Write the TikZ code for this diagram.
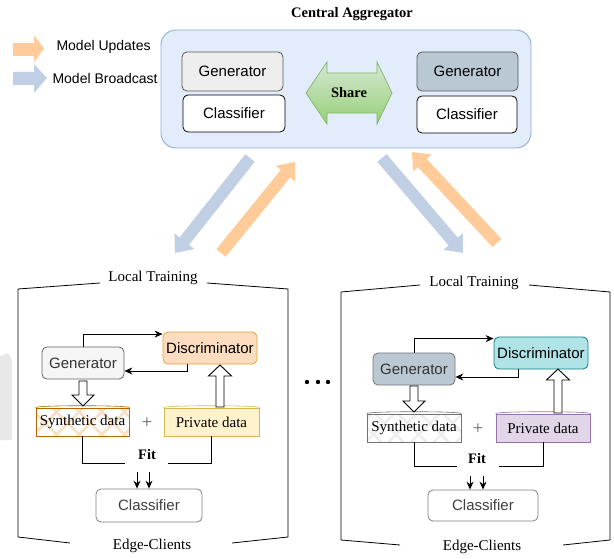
\documentclass[tikz,border=0pt]{standalone}
\usepackage{fontspec}
\setmainfont{Liberation Serif}
\newfontfamily\arialf{Liberation Sans}
\usetikzlibrary{arrows.meta,patterns.meta,calc}
\definecolor{cbox}{HTML}{E3ECFA}
\definecolor{cboxd}{HTML}{8EADD8}
\definecolor{gengray}{HTML}{EEEEEE}
\definecolor{genblue}{HTML}{BAC8D3}
\definecolor{discor}{HTML}{FDDCC0}
\definecolor{discord}{HTML}{E3A23A}
\definecolor{disccy}{HTML}{B0E3E6}
\definecolor{disccyd}{HTML}{0E8088}
\definecolor{privy}{HTML}{FFF2CC}
\definecolor{privyd}{HTML}{D6B656}
\definecolor{privp}{HTML}{E1D5E7}
\definecolor{privpd}{HTML}{9673A6}
\definecolor{synor}{HTML}{B46504}
\definecolor{synpat}{HTML}{F9E0C0}
\definecolor{orangeA}{HTML}{FFCC99}
\definecolor{blueA}{HTML}{C0CFE3}
\definecolor{greenT}{HTML}{D5E8D4}
\definecolor{greenB}{HTML}{97D077}
\definecolor{greenD}{HTML}{82B366}
\begin{document}
\begin{tikzpicture}[x=1pt,y=-1pt,
  sfont/.style={font=\arialf\fontsize{15}{18}\selectfont},
  rfont/.style={font=\fontsize{15}{18}\selectfont},
  mbox/.style={draw, rounded corners=5pt, line width=0.8pt, inner sep=0pt, sfont},
  dstore/.style={draw, line width=0.8pt, inner sep=0pt, rfont},
  flow/.style={line width=0.9pt, -{Stealth[length=8pt,width=7pt]}},
  fitline/.style={line width=0.9pt},
  hollow/.style={draw, fill=white, line width=0.9pt},
  bracket/.style={line width=0.8pt},
  bigarr/.style={line width=12pt, -{Triangle[length=15pt,width=24pt]}},
  plussign/.style={font=\fontsize{19}{20}\selectfont, text=black!60}
]
\useasboundingbox (0,0) rectangle (614,559);
\fill[white] (0,0) rectangle (614,559);

% faint watermark at left edge
\fill[black!9] (0,356) -- (8,353) -- (12,360) -- (12,440) -- (0,440) -- cycle;

% ---------- legend ----------
\fill[orangeA] (13,43) -- (34,43) -- (34,35) -- (44,48.5) -- (34,62) -- (34,56) -- (13,56) -- cycle;
\fill[blueA] (13,72) -- (34,72) -- (34,64) -- (47,78) -- (34,93) -- (34,85) -- (13,85) -- cycle;
\node[anchor=west, font=\arialf\fontsize{14}{17}\selectfont] (lgu) at (53,47) {Model Updates};
\node[anchor=west, font=\arialf\fontsize{14}{17}\selectfont] (lgb) at (49,78) {Model Broadcast};

% ---------- big arrows ----------
\coordinate (bl1) at (250,158); \coordinate (bl2) at (175,253);
\coordinate (ol1) at (221,253); \coordinate (ol2) at (295,162);
\coordinate (br1) at (382,158); \coordinate (br2) at (463,253);
\coordinate (or1) at (497,243); \coordinate (or2) at (412,152);
\draw[bigarr, blueA] (bl1) -- (bl2);
\draw[bigarr, orangeA] (ol1) -- (ol2);
\draw[bigarr, blueA] (br1) -- (br2);
\draw[bigarr, orangeA] (or1) -- (or2);

% ---------- central aggregator ----------
\node[font=\bfseries\fontsize{14.5}{17}\selectfont] (ctitle) at (352,14) {Central Aggregator};
\node[draw=cboxd, fill=cbox, rounded corners=15pt, line width=0.9pt,
      minimum width=370pt, minimum height=118pt] (cagg) at (346,89) {};
\node[mbox, fill=gengray, draw=black!65, minimum width=101pt, minimum height=39pt] (cgen1) at (232.5,71.5) {Generator};
\node[mbox, fill=white, minimum width=102pt, minimum height=37pt] (ccls1) at (234,113.5) {Classifier};
\node[mbox, fill=genblue, draw=black!65, minimum width=101pt, minimum height=39pt] (cgen2) at (467.5,71.5) {Generator};
\node[mbox, fill=white, minimum width=100pt, minimum height=37pt] (ccls2) at (467,114.5) {Classifier};
\shadedraw[top color=greenT, bottom color=greenB, draw=greenD, line width=0.7pt]
  (306,93) -- (327,62) -- (327,73) -- (377,73) -- (377,62) -- (392,93)
  -- (377,124) -- (377,113) -- (327,113) -- (327,124) -- cycle;
\node[font=\bfseries\fontsize{14.5}{17}\selectfont] (share) at (349,93) {Share};

% ---------- left client ----------
\node[rfont] (lloc) at (153,278) {Local Training};
\node[rfont] (ledge) at (152,546) {Edge-Clients};
\draw[bracket] (100,283) -- (18,289) -- (18,537) -- (70,543);
\draw[bracket] (207,283) -- (288,289) -- (288,537) -- (232,543);

\node[mbox, fill=black!4, draw=black!60, text=black!80, minimum width=82pt, minimum height=32pt] (lgen) at (83,363) {Generator};
\node[mbox, fill=discor, draw=discord, minimum width=94pt, minimum height=32pt] (ldisc) at (210,348) {Discriminator};
\begin{scope}
\clip (36,408) rectangle (129,436);
\path[pattern={Lines[angle=45,distance=16pt,line width=2.5pt]}, pattern color=synpat] (36,408) rectangle (129,436);
\path[pattern={Lines[angle=-45,distance=16pt,line width=2.5pt]}, pattern color=synpat] (36,408) rectangle (129,436);
\end{scope}
\node[dstore, draw=synor, minimum width=93pt, minimum height=28pt] (lsyn) at (82.5,422) {Synthetic data};
\draw[synor, line width=0.6pt] (lsyn.north west) .. controls ([yshift=2.5pt]lsyn.north west) and ([yshift=2.5pt]lsyn.north east) .. (lsyn.north east);
\node[dstore, fill=privy, draw=privyd, minimum width=95pt, minimum height=28pt] (lpriv) at (211.5,422) {Private data};
\draw[privyd, line width=0.6pt] (lpriv.north west) .. controls ([yshift=2.5pt]lpriv.north west) and ([yshift=2.5pt]lpriv.north east) .. (lpriv.north east);
\node[plussign] (lplus) at (147,423) {+};
\node[mbox, fill=white, draw=black!50, text=black!75, minimum width=106pt, minimum height=33pt] (lcls) at (149,505.5) {Classifier};

\draw[flow] (lgen.north) |- ([yshift=-2.5pt]ldisc.north west);
\draw[flow] ([xshift=-23pt]ldisc.south) |- ([yshift=-8pt]lgen.east);
\path[hollow] (79,381) -- (87,381) -- (87,395) -- (94,395) -- (83,406) -- (72,395) -- (79,395) -- cycle;
\path[hollow] (216,407) -- (224,407) -- (224,376) -- (231.5,376) -- (220,365) -- (208.5,376) -- (216,376) -- cycle;

\node[font=\bfseries\fontsize{14.5}{17}\selectfont] (lfit) at (147,455) {Fit};
\coordinate (lfa) at (125,463); \coordinate (lfb) at (168,463);
\draw[fitline] (lsyn.south) |- (lfa);
\draw[fitline] (lfb) -| (lpriv.south);
\coordinate (la1) at (137,472); \coordinate (la2) at (149,472);
\draw[flow] (la1) -- (la1 |- lcls.north);
\draw[flow] (la2) -- (la2 |- lcls.north);

% dots
\fill (307,382) circle (2.2pt) (318,382) circle (2.2pt) (328,382) circle (2.2pt);

% ---------- right client ----------
\node[rfont] (rloc) at (474,283) {Local Training};
\node[rfont] (redge) at (482,547) {Edge-Clients};
\draw[bracket] (420,285) -- (341,292) -- (341,540) -- (400,545);
\draw[bracket] (529,285) -- (610,292) -- (610,540) -- (563,545);

\node[mbox, fill=genblue, draw=black!55, text=black!80, minimum width=82pt, minimum height=32pt] (rgen) at (414,369) {Generator};
\node[mbox, fill=disccy, draw=disccyd, minimum width=94pt, minimum height=32pt] (rdisc) at (541,353) {Discriminator};
\begin{scope}
\clip (367,414) rectangle (461,442);
\path[pattern={Lines[angle=45,distance=16pt,line width=2.5pt]}, pattern color=black!7] (367,414) rectangle (461,442);
\path[pattern={Lines[angle=-45,distance=16pt,line width=2.5pt]}, pattern color=black!7] (367,414) rectangle (461,442);
\end{scope}
\node[dstore, draw=black!55, minimum width=94pt, minimum height=28pt] (rsyn) at (414,428) {Synthetic data};
\draw[black!55, line width=0.6pt] (rsyn.north west) .. controls ([yshift=2.5pt]rsyn.north west) and ([yshift=2.5pt]rsyn.north east) .. (rsyn.north east);
\node[dstore, fill=privp, draw=privpd, minimum width=94pt, minimum height=28pt] (rpriv) at (543,428) {Private data};
\draw[privpd, line width=0.6pt] (rpriv.north west) .. controls ([yshift=2.5pt]rpriv.north west) and ([yshift=2.5pt]rpriv.north east) .. (rpriv.north east);
\node[plussign] (rplus) at (478,429) {+};
\node[mbox, fill=white, draw=black!50, text=black!75, minimum width=110pt, minimum height=31pt] (rcls) at (483,505.5) {Classifier};

\draw[flow] (rgen.north) |- ([yshift=-2pt]rdisc.north west);
\draw[flow] ([xshift=-23pt]rdisc.south) |- ([yshift=-8pt]rgen.east);
\path[hollow] (410,386) -- (418,386) -- (418,401) -- (425,401) -- (414,412) -- (403,401) -- (410,401) -- cycle;
\path[hollow] (554,413) -- (562,413) -- (562,380) -- (569.5,380) -- (558,369) -- (546.5,380) -- (554,380) -- cycle;

\node[font=\bfseries\fontsize{14.5}{17}\selectfont] (rfit) at (477,459) {Fit};
\coordinate (rfa) at (457,466); \coordinate (rfb) at (499,466);
\draw[fitline] (rsyn.south) |- (rfa);
\draw[fitline] (rfb) -| (rpriv.south);
\coordinate (ra1) at (470,476); \coordinate (ra2) at (483,476);
\draw[flow] (ra1) -- (ra1 |- rcls.north);
\draw[flow] (ra2) -- (ra2 |- rcls.north);
\end{tikzpicture}
\end{document}
